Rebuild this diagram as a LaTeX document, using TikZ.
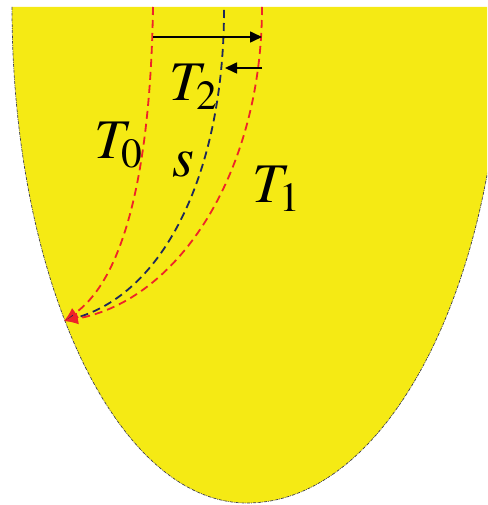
\documentclass[tikz,border=0pt]{standalone}
\usepackage{mathptmx}
\usetikzlibrary{arrows.meta}
\definecolor{domainyellow}{RGB}{245,234,20}
\definecolor{pathred}{RGB}{238,36,40}
\definecolor{pathblue}{RGB}{30,40,90}
\definecolor{rimgray}{RGB}{60,60,80}
\tikzset{
  region/.style={fill=domainyellow, draw=none},
  rim/.style={draw=rimgray, line width=0.7pt, densely dash dot},
  redpath/.style={draw=pathred, line width=1.8pt, dash pattern=on 8pt off 5pt, -{Latex[length=14pt,width=12pt]}},
  bluepath/.style={draw=pathblue, line width=1.8pt, dash pattern=on 8pt off 5pt, -{Latex[length=10pt,width=8pt]}},
  gap/.style={-{Triangle[length=12pt,width=11pt]}, line width=1.6pt, black},
  lbl/.style={font=\fontsize{56}{66}\selectfont, inner sep=0pt}
}
\begin{document}
\begin{tikzpicture}[x=1pt, y=-1pt]
  \useasboundingbox (0,0) rectangle (487,505);
  \begin{scope}
    \clip (0,0) rectangle (487,505);
    \fill[region] (12,7) .. controls (12,281) and (117,503) .. (247,503)
      .. controls (388,503) and (502,281) .. (502,7) -- cycle;
    \draw[rim] (12,7) .. controls (12,281) and (117,503) .. (247,503)
      .. controls (388,503) and (502,281) .. (502,7);
  \end{scope}
  % end points of the three paths
  \coordinate (tip) at (64,321);
  \coordinate (top0) at (153,7);
  \coordinate (tops) at (224,10);
  \coordinate (top1) at (262,7);
  \draw[redpath]  (top0) .. controls (150,200) and (115,285) .. (tip);
  \draw[bluepath] (tops) .. controls (224,170) and (165,295) .. (tip);
  \draw[redpath]  (top1) .. controls (262,170) and (180,300) .. (tip);
  % gap arrows
  \coordinate (a0) at (153,37);
  \coordinate (a1) at (262,37);
  \coordinate (b1) at (262,68);
  \coordinate (bs) at (225,68);
  \draw[gap] (a0) -- (a1);
  \draw[gap] (b1) -- (bs);
  % labels
  \node[lbl] (t0) at (119,145) {$T_0$};
  \node[lbl] (t2) at (194,87) {$T_2$};
  \node[lbl] (sl) at (183,164) {$s$};
  \node[lbl] (t1) at (277,189) {$T_1$};
\end{tikzpicture}
\end{document}
